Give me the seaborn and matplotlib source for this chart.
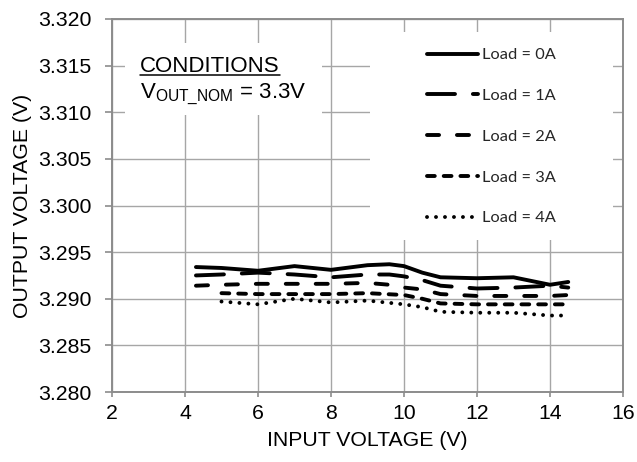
import numpy as np
import pandas as pd
import matplotlib
matplotlib.use("Agg")
import matplotlib.pyplot as plt
import seaborn as sns
from matplotlib.patches import Rectangle
from matplotlib.lines import Line2D
from matplotlib.font_manager import FontProperties
from matplotlib.ticker import FormatStrFormatter

# ---- data ----
loads = ["Load = 0A", "Load = 1A", "Load = 2A", "Load = 3A", "Load = 4A"]
vin_a = [4.3, 5, 6, 7, 8, 9, 9.6, 10, 10.5, 11, 12, 13, 14, 14.5]
vin_b = [5, 6, 7, 8, 9, 10, 10.5, 11, 12, 13, 14, 14.5]
vout_0a = [3.2934, 3.2933, 3.2930, 3.2935, 3.2931, 3.2936, 3.2937, 3.2935, 3.2928, 3.2923, 3.2922, 3.2923, 3.2915, 3.2918]
vout_1a = [3.2925, 3.2926, 3.2928, 3.2926, 3.2923, 3.2926, 3.2926, 3.2924, 3.2920, 3.2914, 3.2911, 3.2912, 3.2914, 3.2912]
vout_2a = [3.2914, 3.2915, 3.2916, 3.2916, 3.2916, 3.2917, 3.2915, 3.2912, 3.2910, 3.2905, 3.2903, 3.2903, 3.2903, 3.2904]
vout_3a = [3.2906, 3.2905, 3.2905, 3.2905, 3.2906, 3.2904, 3.2900, 3.2895, 3.2894, 3.2894, 3.2894, 3.2894]
vout_4a = [3.2897, 3.2894, 3.2900, 3.2896, 3.2898, 3.2894, 3.2891, 3.2886, 3.2885, 3.2885, 3.2882, 3.2882]
x_ticks = [2, 4, 6, 8, 10, 12, 14, 16]
y_ticks = [3.280, 3.285, 3.290, 3.295, 3.300, 3.305, 3.310, 3.315, 3.320]

series = [(loads[0], vin_a, vout_0a), (loads[1], vin_a, vout_1a), (loads[2], vin_a, vout_2a),
          (loads[3], vin_b, vout_3a), (loads[4], vin_b, vout_4a)]
df = pd.concat([pd.DataFrame({"vin": x, "vout": y, "load": name}) for name, x, y in series],
               ignore_index=True)

sns.set_theme(style="white")
plt.rcParams["font.family"] = ["Liberation Sans", "DejaVu Sans"]
plt.rcParams["mathtext.fontset"] = "custom"
plt.rcParams["mathtext.rm"] = "Liberation Sans"
plt.rcParams["mathtext.it"] = "Liberation Sans:italic"
plt.rcParams["mathtext.bf"] = "Liberation Sans:bold"

W, H = 637, 462
fig = plt.figure(figsize=(W / 100, H / 100), dpi=100)
L, R, T, B = 112, 623, 19, 392
ax = fig.add_axes([L / W, 1 - B / H, (R - L) / W, (B - T) / H])

dashes = {loads[0]: "", loads[1]: (7.2, 4.6), loads[2]: (3.1, 4.6),
          loads[3]: (2.0, 2.3), loads[4]: (0.01, 2.3)}
sns.lineplot(data=df, x="vin", y="vout", hue="load", style="load", hue_order=loads,
             style_order=loads, palette=["black"] * 5, dashes=dashes, lw=2.8,
             estimator=None, sort=False, legend=False, ax=ax)
for ln in ax.get_lines():
    ln.set_dash_capstyle("round")
    ln.set_solid_capstyle("round")
    ln.set_solid_joinstyle("round")

ax.set_xlim(2, 16)
ax.set_ylim(3.280, 3.320)
ax.set_xticks(x_ticks)
ax.set_yticks(y_ticks)
ax.yaxis.set_major_formatter(FormatStrFormatter("%.3f"))
grid_c = "#a6a6a6"
spine_c = "#8c8c8c"
ax.grid(True, color=grid_c, lw=1.0)
ax.set_axisbelow(True)
for s in ax.spines.values():
    s.set_color(spine_c)
    s.set_linewidth(1.4)
ax.tick_params(axis="x", direction="out", length=3.6, width=1.2, color=spine_c,
               labelsize=15.3, labelcolor="black", pad=5, bottom=True)
ax.tick_params(axis="y", direction="out", length=5, width=1.2, color=spine_c,
               labelsize=15.3, labelcolor="black", pad=10, left=True)

ax.set_xlabel("INPUT VOLTAGE (V)", fontsize=15.3, color="black")
ax.set_ylabel("OUTPUT VOLTAGE (V)", fontsize=15.3, color="black")
ax.xaxis.set_label_coords(0.5, (B - 440) / (B - T))
ax.xaxis.label.set_verticalalignment("center")
ax.yaxis.set_label_coords((22 - L) / (R - L), 0.5)
ax.yaxis.label.set_verticalalignment("center")

# white boxes hiding the gridlines behind the notes and the legend
ax.add_patch(Rectangle((2.36, 3.3097), 5.39, 0.0077, facecolor="white", edgecolor="none", zorder=1))
ax.add_patch(Rectangle((9.07, 3.29632), 6.66, 0.02228, facecolor="white", edgecolor="none", zorder=1))

# conditions text
t1 = fig.text(140 / W, 1 - 72 / H, "CONDITIONS", fontsize=16, va="baseline", ha="left", color="black")
fig.text(140 / W, 1 - 98 / H, r"V$_{\mathrm{OUT\_NOM}}$ = 3.3V", fontsize=16, va="baseline",
         ha="left", color="black")
fig.canvas.draw()
bb = t1.get_window_extent()
uy = (1 - 75 / H)
fig.add_artist(Line2D([bb.x0 / W, bb.x1 / W], [uy, uy], color="black", lw=1.1,
                      transform=fig.transFigure))

# legend
handles = ax.get_lines()[:5]
leg = ax.legend(handles, loads, loc="upper left", bbox_to_anchor=(427 / W, 1 - 48 / H),
                bbox_transform=fig.transFigure, frameon=False,
                prop=FontProperties(family="Lato", size=11.8), handlelength=3.1,
                handletextpad=0.25, labelspacing=1.6, borderpad=0, borderaxespad=0)
for ln in leg.get_lines():
    ln.set_dash_capstyle("round")
    ln.set_solid_capstyle("round")

fig.savefig("out.png", dpi=100)
